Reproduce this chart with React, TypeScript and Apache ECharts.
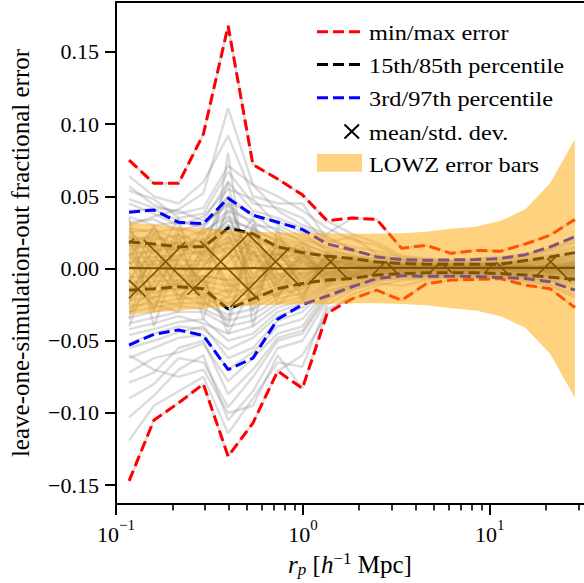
import React, { useEffect, useRef } from "react";
import * as echarts from "echarts";

// projected separation bins [h^-1 Mpc]
const rp = [0.1175, 0.1594, 0.2163, 0.2934, 0.398, 0.54, 0.733, 0.994, 1.349, 1.83, 2.483, 3.37, 4.571, 6.2, 8.41, 11.42, 15.49, 21.02, 28.51];

const maxErr = [0.075, 0.059, 0.059, 0.093, 0.168, 0.072, 0.062, 0.051, 0.033, 0.035, 0.034, 0.014, 0.016, 0.0105, 0.0125, 0.012, 0.017, 0.023, 0.034];
const minErr = [-0.147, -0.105, -0.093, -0.08, -0.13, -0.107, -0.071, -0.083, -0.031, -0.021, -0.015, -0.022, -0.0105, -0.008, -0.0075, -0.007, -0.0115, -0.014, -0.027];
const p97 = [0.039, 0.0405, 0.032, 0.031, 0.0487, 0.037, 0.032, 0.027, 0.017, 0.013, 0.008, 0.0062, 0.0057, 0.006, 0.0062, 0.0069, 0.0096, 0.015, 0.022];
const p3 = [-0.053, -0.0455, -0.0425, -0.0464, -0.07, -0.062, -0.035, -0.025, -0.019, -0.0126, -0.007, -0.005, -0.0053, -0.0053, -0.0055, -0.0062, -0.0069, -0.0092, -0.015];
const p85 = [0.0184, 0.017, 0.015, 0.015, 0.028, 0.024, 0.015, 0.011, 0.0085, 0.007, 0.0045, 0.0035, 0.003, 0.003, 0.003, 0.003, 0.0055, 0.008, 0.011];
const p15 = [-0.015, -0.014, -0.0126, -0.014, -0.028, -0.021, -0.014, -0.0103, -0.008, -0.0069, -0.0045, -0.0035, -0.003, -0.003, -0.003, -0.0035, -0.0045, -0.006, -0.0075];
const meanErr = [0.0003, 0.0002, 0, 0, 0, 0.0003, 0, 0, 0.0002, 0.0004, 0.0004, 0.0004, 0.0004, 0.0004, 0.0004, 0.0004, 0.0004, 0.0004, 0.0004];
const stdErr = [0.021, 0.019, 0.018, 0.019, 0.027, 0.024, 0.017, 0.012, 0.009, 0.0075, 0.005, 0.004, 0.0037, 0.0035, 0.0035, 0.004, 0.005, 0.007, 0.01];
const lowzErr = [0.032, 0.0305, 0.029, 0.0275, 0.0265, 0.0255, 0.025, 0.0248, 0.0245, 0.024, 0.024, 0.0245, 0.0255, 0.0275, 0.029, 0.033, 0.041, 0.059, 0.0895];

// individual leave-one-out curves, in units of 1e-3
const simErrPermille: number[][] = [
  [75, 59, 59, 93, 168, 72, 62, 51, 33, 24, 18, 9, 7, 6, 7, 8, 10, 14, 20],
  [30, 36, 41, 52, 111, 58, 40, 30, 24, 35, 34, 14, 16, 10.5, 12.5, 12, 17, 23, 34],
  [64, 50, 45, 60, 92, 50, 45, 45, 20, 15, 12, 8, 6, 5, 6, 7, 9, 13, 18],
  [57, 44, 38, 42, 71, 58, 50, 40, 28, 20, 16, 7, 6, 4, 5, 6, 8, 12, 15],
  [54, 48, 35, 38, 67, 45, 42, 35, 18, 22, 10, 6, 4, 5, 4, 5, 7, 10, 14],
  [48, 42, 40, 33, 60, 40, 35, 28, 22, 13, 8, 5, 5, 3, 4, 4, 6, 9, 12],
  [45, 38, 30, 36, 55, 48, 30, 22, 15, 12, 9, 6, 3, 4, 3, 4, 5, 8, 11],
  [40, 41, 33, 28, 50, 36, 33, 25, 12, 10, 6, 4, 4, 3, 3, 3, 5, 7, 9],
  [36, 30, 32, 30, 46, 38, 25, 20, 14, 8, 7, 5, 3, 3, 3, 4, 4, 6, 10],
  [32, 34, 26, 31, 44, 30, 28, 18, 10, 9, 5, 3, 3, 2, 3, 3, 4, 7, 8],
  [28, 25, 28, 24, 40, 33, 22, 17, 11, 6, 5, 4, 2, 3, 2, 3, 5, 5, 8],
  [25, 27, 20, 26, 36, 26, 20, 15, 8, 7, 4, 3, 3, 2, 2, 2, 3, 6, 6],
  [22, 20, 23, 18, 33, 28, 18, 12, 9, 5, 4, 2, 2, 2, 2, 2, 3, 4, 7],
  [19, 22, 17, 20, 30, 22, 15, 13, 7, 6, 3, 3, 2, 1, 2, 2, 2, 5, 5],
  [16, 15, 18, 15, 28, 24, 13, 10, 6, 4, 3, 2, 1, 2, 1, 2, 3, 3, 4],
  [13, 17, 12, 16, 25, 18, 16, 9, 5, 5, 2, 2, 2, 1, 1, 1, 2, 4, 3],
  [10, 12, 14, 10, 22, 15, 10, 8, 6, 3, 2, 1, 1, 1, 1, 1, 1, 2, 4],
  [7, 8, 9, 12, 18, 12, 9, 6, 4, 3, 2, 1, 1, 0, 1, 1, 2, 2, 2],
  [4, 5, 6, 5, 14, 10, 6, 4, 3, 2, 1, 1, 0, 1, 0, 0, 1, 1, 2],
  [1, 3, 2, 3, 9, 6, 3, 2, 1, 1, 1, 0, 0, 0, 0, 1, 0, 1, 0],
  [-147, -105, -93, -80, -130, -107, -71, -60, -31, -18, -12, -8, -7, -6, -6, -6, -9, -12, -20],
  [-60, -70, -75, -70, -100, -95, -60, -83, -28, -21, -15, -22, -10.5, -8, -7.5, -7, -11.5, -14, -27],
  [-119, -95, -85, -75, -114, -90, -65, -68, -25, -15, -10, -12, -8, -6, -6, -5, -8, -11, -18],
  [-103, -88, -70, -60, -105, -85, -55, -50, -22, -12, -8, -7, -6, -5, -5, -5, -7, -9, -15],
  [-90, -80, -62, -65, -96, -75, -50, -45, -20, -14, -9, -6, -5, -5, -4, -5, -6, -8, -13],
  [-79, -72, -55, -50, -87, -70, -48, -43, -18, -11, -7, -5, -5, -4, -4, -4, -6, -8, -11],
  [-72, -62, -58, -52, -78, -62, -45, -40, -16, -10, -6, -5, -4, -4, -4, -4, -5, -7, -10],
  [-62, -55, -48, -46, -70, -58, -40, -35, -15, -12, -7, -4, -4, -3, -3, -4, -5, -6, -9],
  [-55, -50, -44, -40, -62, -55, -36, -30, -13, -9, -5, -4, -3, -3, -3, -3, -4, -6, -8],
  [-52, -45, -40, -42, -56, -48, -33, -27, -12, -8, -6, -3, -3, -3, -3, -3, -4, -5, -8],
  [-46, -42, -37, -35, -50, -45, -30, -24, -11, -7, -4, -4, -3, -2, -3, -3, -4, -5, -7],
  [-42, -38, -33, -38, -45, -40, -27, -22, -10, -6, -4, -3, -2, -2, -2, -3, -3, -5, -6],
  [-38, -34, -30, -30, -40, -36, -24, -20, -9, -6, -4, -3, -2, -2, -2, -2, -3, -4, -6],
  [-34, -30, -26, -28, -36, -32, -21, -17, -8, -5, -3, -3, -2, -2, -2, -2, -3, -4, -5],
  [-30, -27, -24, -24, -32, -28, -18, -14, -7, -5, -3, -2, -2, -2, -2, -2, -2, -3, -5],
  [-26, -24, -21, -20, -28, -24, -16, -12, -6, -4, -3, -2, -2, -1, -1, -2, -2, -3, -4],
  [-22, -20, -18, -17, -24, -20, -13, -10, -5, -4, -2, -2, -1, -1, -1, -1, -2, -2, -3],
  [-18, -16, -14, -15, -20, -17, -11, -8, -4, -3, -2, -1, -1, -1, -1, -1, -1, -2, -3],
  [-14, -12, -11, -12, -16, -14, -9, -6, -3, -2, -1, -1, -1, -1, -1, -1, -1, -2, -2],
  [-10, -9, -8, -9, -12, -10, -6, -4, -2, -2, -1, -1, 0, 0, -1, 0, -1, -1, -2],
  [-6, -5, -5, -5, -8, -6, -4, -3, -1, -1, 0, 0, 0, 0, 0, 0, -1, 0, -1],
  [12, -8, 20, 5, 30, -5, 10, -6, 3, -2, 2, -1, 1, 0, -1, 1, 0, 2, -2],
  [-20, 8, -5, 22, -18, 12, -10, 8, -4, 3, -2, 1, -1, 1, 0, -1, 1, -2, 3],
  [26, 10, -12, 8, 15, -20, 18, 3, 6, -4, 3, 2, 0, -1, 1, 0, -1, 1, 4],
  [-28, -15, 10, -10, 45, 5, -12, 14, -5, 4, -3, -2, 1, 0, 1, 2, 2, -3, -4],
  [8, 28, 5, -22, -35, 30, 5, -15, 8, -5, 1, 2, -2, 1, -1, 0, -2, 3, 5],
  [-12, -25, -30, 12, 60, -30, 22, 5, -8, 6, 4, -1, 2, 2, 0, 1, 1, 1, -1],
  [20, -30, 25, -35, 20, 15, -25, -10, 10, -6, -4, 3, -1, -1, 1, -1, 0, -1, 2],
  [-35, 18, -20, -5, -45, -12, 8, 18, 2, 8, 3, 1, 1, -2, -2, 2, -3, 2, -6],
  [35, -40, 8, 25, 10, 35, -20, 12, -12, 2, -5, -3, 2, 0, 2, -2, 3, -4, 6],
  [-40, 5, 35, -28, 80, -40, 28, -22, 12, -8, 5, 3, -3, 2, -2, 1, -2, 4, -7],
  [15, 20, -10, -15, 5, 20, -8, 10, -3, 5, -2, 2, 1, -1, 1, -1, 2, -1, 3],
  [-8, 12, 18, -18, -25, -8, 15, -5, 7, -3, 2, -2, 0, 1, -1, 1, -1, 3, -3],
  [22, -18, -8, 12, 35, 10, -15, 6, -6, -2, 3, 1, -1, 0, 1, 0, 1, -2, 2],
  [-25, 25, 12, -12, 12, -25, 12, -12, 5, 4, -3, -1, 2, -1, 0, 1, -2, 2, -4],
  [5, -22, -25, 18, -12, 18, -5, 8, -2, -5, 1, 2, -1, 1, 1, -1, 0, 1, 1],
  [-18, -5, 24, 8, 40, -15, 3, -8, 9, 1, -1, -2, 1, -1, -1, 2, 1, -3, -2],
  [28, 2, -18, -25, -20, 8, 10, 15, -9, 6, 2, 1, -2, 1, 0, -1, -2, 2, 2],
  [-3, -28, 6, 28, 25, -18, -18, -2, 4, -4, -4, 2, 1, 0, 2, 0, 2, 0, -1],
  [10, -15, 15, 20, -10, -22, 12, -12, 4, 3, -2, 0, 1, -1, 0, 1, -1, 2, -2],
  [-15, 5, -22, 2, 22, -10, -20, 6, -7, -5, 1, 1, -1, 1, 1, 0, 1, -2, 3],
  [18, 24, 2, -8, -40, 25, -3, -18, 6, 2, 3, -1, 0, 0, -1, -1, 2, 1, -2],
  [-22, -10, 15, 16, 50, 0, 20, 10, -4, -6, -2, 2, 1, 1, 0, 1, -1, -1, 1],
  [3, 16, -15, -5, -8, 28, -12, -20, 10, 4, 2, -2, -1, -1, 1, -1, 0, 2, 4],
  [24, -5, 28, 10, 18, -8, 6, 12, -10, -3, -3, 1, 2, 1, -1, 1, 1, -1, -3],
  [-10, 30, -3, -20, -15, 12, -8, 2, 2, 7, 4, 2, -1, 0, 1, 0, -2, 2, 0],
  [-30, -20, -10, 0, 30, -5, 15, -12, -3, -1, -1, -2, 0, 1, 1, 2, 2, -2, -5],
];

const yTicks = [-0.15, -0.1, -0.05, 0, 0.05, 0.1, 0.15];
const xMajorTicks = [0.1, 1, 10];
const xMinorTicks = [0.2, 0.3, 0.4, 0.5, 0.6, 0.7, 0.8, 0.9, 2, 3, 4, 5, 6, 7, 8, 9, 20, 30];
const legendLabels = ["min/max error", "15th/85th percentile", "3rd/97th percentile", "mean/std. dev.", "LOWZ error bars"];

const FONT = "Liberation Serif";
const X_MIN = 0.1;
const X_MAX = 31.9;
const Y_MIN = -0.163;
const Y_MAX = 0.1845;
const ORANGE = "rgba(255,165,0,0.5)";

function pairs(ys: number[]) {
  return rp.map((x, i) => [x, ys[i]]);
}

function interpY(pts: number[][], x: number) {
  for (let i = 0; i < pts.length - 1; i++) {
    const a = pts[i], b = pts[i + 1];
    if (x >= a[0] && x <= b[0]) {
      const t = (x - a[0]) / (b[0] - a[0] || 1);
      return a[1] + t * (b[1] - a[1]);
    }
  }
  return NaN;
}

function buildOption() {
  const greySeries = simErrPermille.map((c) => ({
    type: "line",
    data: pairs(c.map((v) => v / 1000)),
    symbol: "none",
    silent: true,
    lineStyle: { color: "rgba(128,128,128,0.28)", width: 2.4 },
    z: 2,
  }));
  const dashed = (ys: number[], color: string) => ({
    type: "line",
    data: pairs(ys),
    symbol: "none",
    silent: true,
    lineStyle: { color, width: 3, type: [11, 5] },
    z: 3,
  });

  const hatchSeries = {
    type: "custom",
    data: [[rp[0], 0]],
    silent: true,
    z: 3,
    renderItem: (params: any, api: any) => {
      if (params.dataIndex !== 0) return null;
      const up = rp.map((x, i) => api.coord([x, meanErr[i] + stdErr[i]]));
      const lo = rp.map((x, i) => api.coord([x, meanErr[i] - stdErr[i]]));
      const xL = up[0][0];
      const xR = up[up.length - 1][0];
      let yMin = Infinity, yMax = -Infinity;
      up.forEach((p: number[]) => (yMin = Math.min(yMin, p[1])));
      lo.forEach((p: number[]) => (yMax = Math.max(yMax, p[1])));
      const period = 55;
      const children: any[] = [];
      const step = 0.25;
      const families = [
        { s: 1, base: 96 },
        { s: -1, base: 427.4 },
      ];
      const push = (a: number[], b: number[]) =>
        children.push({ type: "line", shape: { x1: a[0], y1: a[1], x2: b[0], y2: b[1] }, style: { stroke: "#000", lineWidth: 1.6 } });
      for (const f of families) {
        const bLo = f.s === 1 ? yMin - xR : yMin + xL;
        const bHi = f.s === 1 ? yMax - xL : yMax + xR;
        const n0 = Math.floor((bLo - f.base) / period) - 1;
        const n1 = Math.ceil((bHi - f.base) / period) + 1;
        for (let n = n0; n <= n1; n++) {
          const b = f.base + n * period;
          let start: number[] | null = null;
          let last: number[] | null = null;
          for (let x = xL; x <= xR + 1e-6; x += step) {
            const y = f.s * x + b;
            const inside = y >= interpY(up, x) && y <= interpY(lo, x);
            if (inside) {
              if (!start) start = [x, y];
              last = [x, y];
            } else if (start && last) {
              push(start, last);
              start = null;
              last = null;
            }
          }
          if (start && last) push(start, last);
        }
      }
      return { type: "group", children };
    },
  };

  const bandSeries = {
    type: "custom",
    data: [[rp[0], 0]],
    silent: true,
    z: 6,
    renderItem: (params: any, api: any) => {
      if (params.dataIndex !== 0) return null;
      const up = rp.map((x, i) => api.coord([x, lowzErr[i]]));
      const lo = rp.map((x, i) => api.coord([x, -lowzErr[i]])).reverse();
      return { type: "polygon", shape: { points: up.concat(lo) }, style: { fill: ORANGE } };
    },
  };

  const meanSeries = {
    type: "line",
    data: pairs(meanErr),
    symbol: "none",
    silent: true,
    lineStyle: { color: "#000", width: 2.2 },
    z: 4,
  };

  const rowY = [31.7, 64.5, 97.8, 131.5, 163];
  const hx1 = 317, hx2 = 362, tx = 369;
  const graphics: any[] = [
    { type: "line", shape: { x1: hx1, y1: rowY[0], x2: hx2, y2: rowY[0] }, style: { stroke: "#ff0000", lineWidth: 3, lineDash: [11, 5] } },
    { type: "line", shape: { x1: hx1, y1: rowY[1], x2: hx2, y2: rowY[1] }, style: { stroke: "#000000", lineWidth: 3, lineDash: [11, 5] } },
    { type: "line", shape: { x1: hx1, y1: rowY[2], x2: hx2, y2: rowY[2] }, style: { stroke: "#0000ff", lineWidth: 3, lineDash: [11, 5] } },
    { type: "line", shape: { x1: 344.5, y1: rowY[3] - 7, x2: 359, y2: rowY[3] + 7 }, style: { stroke: "#000", lineWidth: 2 } },
    { type: "line", shape: { x1: 344.5, y1: rowY[3] + 7, x2: 359, y2: rowY[3] - 7 }, style: { stroke: "#000", lineWidth: 2 } },
    { type: "rect", shape: { x: hx1, y: 154, width: hx2 - hx1, height: 17.7 }, style: { fill: ORANGE } },
  ];
  legendLabels.forEach((t, i) => {
    graphics.push({
      type: "text",
      x: tx,
      y: rowY[i] + 1.5,
      scaleX: 1.13,
      style: { text: t, fontFamily: FONT, fontSize: 21.5, fill: "#000", textVerticalAlign: "middle", verticalAlign: "middle" },
    });
  });
  graphics.forEach((g) => (g.z = 100));

  const xLabelRich = {
    b: { fontFamily: FONT, fontSize: 22, color: "#000", lineHeight: 28, verticalAlign: "bottom" },
    s: { fontFamily: FONT, fontSize: 15, color: "#000", lineHeight: 15, verticalAlign: "top" },
  };

  return {
    animation: false,
    backgroundColor: "#fff",
    textStyle: { fontFamily: FONT },
    grid: { left: 114, top: 2, right: 0, bottom: 76.3, containLabel: false },
    xAxis: [
      {
        type: "log",
        logBase: 10,
        min: X_MIN,
        max: X_MAX,
        position: "bottom",
        axisLine: { show: true, onZero: false, lineStyle: { color: "#000", width: 2 } },
        axisTick: { show: true, length: 11, lineStyle: { color: "#000", width: 2 }, customValues: xMajorTicks },
        axisLabel: {
          show: true,
          customValues: xMajorTicks,
          margin: 13,
          fontFamily: FONT,
          formatter: (v: number) => {
            const e = Math.round(Math.log10(v));
            return `{b|10}{s|${e < 0 ? "\u2212" + -e : e}}`;
          },
          rich: xLabelRich,
        },
        splitLine: { show: false },
        minorTick: { show: false },
        name: "{i|r}{sub|p}{n| [}{i|h}{sup|\u22121}{n| Mpc]}",
        nameLocation: "middle",
        nameGap: 46,
        nameTextStyle: {
          color: "#000",
          fontFamily: FONT,
          rich: {
            i: { fontFamily: FONT, fontSize: 25, fontStyle: "italic", color: "#000", lineHeight: 28, verticalAlign: "middle" },
            n: { fontFamily: FONT, fontSize: 25, color: "#000", lineHeight: 28, verticalAlign: "middle" },
            sub: { fontFamily: FONT, fontSize: 17, fontStyle: "italic", color: "#000", lineHeight: 16, verticalAlign: "bottom" },
            sup: { fontFamily: FONT, fontSize: 17, color: "#000", lineHeight: 16, verticalAlign: "top" },
          },
        },
      },
      {
        type: "log",
        logBase: 10,
        min: X_MIN,
        max: X_MAX,
        position: "bottom",
        axisLine: { show: false, onZero: false },
        axisTick: { show: true, length: 6.5, lineStyle: { color: "#000", width: 1.6 }, customValues: xMinorTicks },
        axisLabel: { show: false },
        splitLine: { show: false },
      },
      {
        type: "log",
        logBase: 10,
        min: X_MIN,
        max: X_MAX,
        position: "top",
        axisLine: { show: true, onZero: false, lineStyle: { color: "#000", width: 2 } },
        axisTick: { show: false },
        axisLabel: { show: false },
        splitLine: { show: false },
      },
    ],
    yAxis: {
      type: "value",
      min: Y_MIN,
      max: Y_MAX,
      axisLine: { show: true, onZero: false, lineStyle: { color: "#000", width: 2 } },
      axisTick: { show: true, length: 11, lineStyle: { color: "#000", width: 2 }, customValues: yTicks },
      axisLabel: {
        show: true,
        customValues: yTicks,
        margin: 17,
        fontFamily: FONT,
        fontSize: 22,
        color: "#000",
        formatter: (v: number) => (Math.abs(v) < 1e-9 ? "0.00" : v.toFixed(2)).replace("-", "\u2212"),
      },
      splitLine: { show: false },
      name: "leave-one-simulation-out fractional error",
      nameLocation: "middle",
      nameRotate: 90,
      nameGap: 83,
      nameTextStyle: { fontFamily: FONT, fontSize: 25, color: "#000" },
    },
    series: [
      ...greySeries,
      dashed(maxErr, "#ff0000"),
      dashed(minErr, "#ff0000"),
      dashed(p85, "#000000"),
      dashed(p15, "#000000"),
      dashed(p97, "#0000ff"),
      dashed(p3, "#0000ff"),
      hatchSeries,
      meanSeries,
      bandSeries,
    ],
    graphic: graphics,
  };
}

export default function App() {
  const ref = useRef<HTMLDivElement>(null);
  useEffect(() => {
    if (!ref.current) return;
    const chart = echarts.init(ref.current, undefined, { renderer: "svg" });
    chart.setOption(buildOption() as any);
    return () => chart.dispose();
  }, []);
  return <div ref={ref} style={{ position: "absolute", left: 0, top: 0, width: 584, height: 583 }} />;
}
